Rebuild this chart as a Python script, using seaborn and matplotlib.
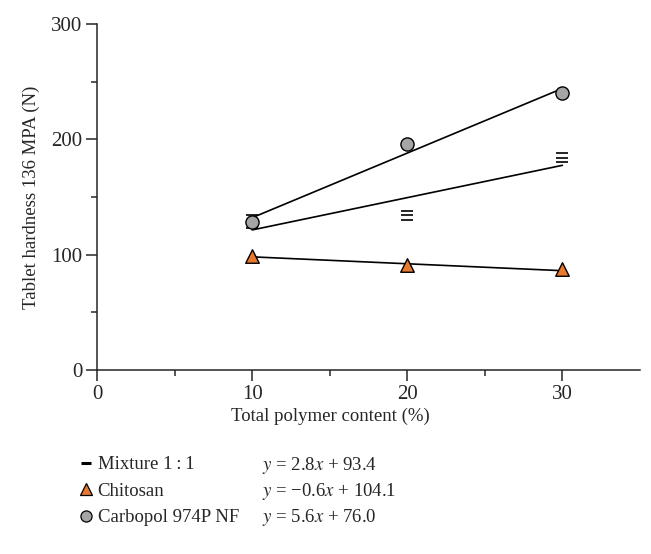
import matplotlib
matplotlib.use('Agg')
import matplotlib.pyplot as plt
import numpy as np
import pandas as pd
import seaborn as sns

# data
x_vals = [10, 20, 30]
chitosan = [99, 91, 88]
carbopol = [128, 196, 240]
mix_upper = [134, 138, 188]
mix_mean = [128, 134, 184]
mix_lower = [123, 130, 180]

series_names = ['Mixture 1\u2009:\u20091', 'Chitosan', 'Carbopol 974P NF']
slopes = [2.8, -0.6, 5.6]
intercepts = [93.4, 104.1, 76.0]
equations = ['$y$ = 2.8$x$ + 93.4', '$y$ = \u22120.6$x$ + 104.1', '$y$ = 5.6$x$ + 76.0']

sns.set_style('ticks')
plt.rcParams['font.family'] = ['Liberation Serif', 'DejaVu Serif']
plt.rcParams['mathtext.fontset'] = 'stix'
plt.rcParams['axes.linewidth'] = 1.1

orange = '#E8792F'
grey = '#A5A5A5'

fig = plt.figure(figsize=(6.51, 5.54), dpi=100)
ax = fig.add_axes([0.149, 0.332, 0.834, 0.625])

# fitted lines from the printed equations
fit_x = np.array([x_vals[0], x_vals[-1]])
for m, b in zip(slopes, intercepts):
    ax.plot(fit_x, m * fit_x + b, color='black', lw=1.2, zorder=2)

df = pd.DataFrame({'x': x_vals, 'chit': chitosan, 'carb': carbopol,
                   'up': mix_upper, 'mid': mix_mean, 'lo': mix_lower})

for col in ['up', 'mid', 'lo']:
    ax.plot(df['x'], df[col], ls='none', marker='_', ms=8, mew=1.2,
            color='black', zorder=3)

sns.scatterplot(data=df, x='x', y='chit', marker='^', s=95, color=orange,
                edgecolor='black', linewidth=1.0, ax=ax, zorder=4)
sns.scatterplot(data=df, x='x', y='carb', marker='o', s=90, color=grey,
                edgecolor='black', linewidth=1.0, ax=ax, zorder=4)

ax.set_xlim(0, 35)
ax.set_ylim(0, 300)
ax.set_xticks([0, 10, 20, 30])
ax.set_xticks([5, 15, 25], minor=True)
ax.set_yticks([0, 100, 200, 300])
ax.set_yticks([50, 150, 250], minor=True)
ax.tick_params(which='major', length=8, width=1.1, labelsize=15, pad=2.5,
               direction='out')
ax.tick_params(which='minor', length=4.5, width=1.1, direction='out')
sns.despine(ax=ax)

ax.set_xlabel('Total polymer content (%)', fontsize=13.5)
ax.xaxis.set_label_coords(0.429, -0.108)
ax.set_ylabel('Tablet hardness 136 MPA (N)', fontsize=13.5, labelpad=8)

# legend under the plot
handles = [
    plt.Line2D([], [], ls='none', marker='_', ms=7, mew=2.2, color='black'),
    plt.Line2D([], [], ls='none', marker='^', ms=8, mfc=orange, mec='black', mew=0.9),
    plt.Line2D([], [], ls='none', marker='o', ms=8, mfc=grey, mec='black', mew=0.9),
]
fig.legend(handles, series_names, loc='upper left',
           bbox_to_anchor=(78 / 651, 1 - 456 / 554), frameon=False,
           fontsize=13.5, handlelength=0.8, handletextpad=0.25,
           borderpad=0, borderaxespad=0, labelspacing=0.5)

for i, eq in enumerate(equations):
    fig.text(262 / 651, 1 - (466 + 26 * i) / 554, eq, fontsize=13.5,
             va='center', ha='left')

fig.savefig('out.png', dpi=100)
